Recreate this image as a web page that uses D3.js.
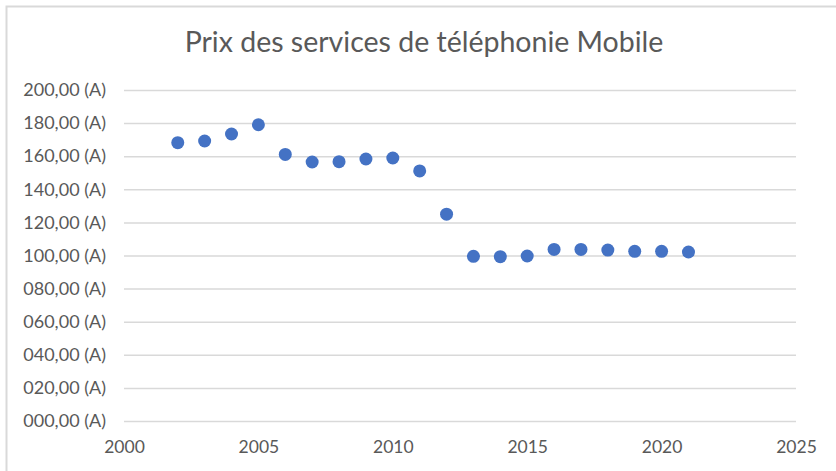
<!DOCTYPE html>
<html>
<head>
<meta charset="utf-8">
<script src="https://cdn.jsdelivr.net/npm/d3@7"></script>
<style>
  body { margin: 0; background: #fff; }
  svg { display: block; font-family: Lato, "Open Sans", sans-serif; }
</style>
</head>
<body>
<svg></svg>
<script>
// data
const years = [2002, 2003, 2004, 2005, 2006, 2007, 2008, 2009, 2010, 2011,
               2012, 2013, 2014, 2015, 2016, 2017, 2018, 2019, 2020, 2021];
const prices = [168.2, 169.2, 173.4, 179.0, 161.1, 156.5, 156.7, 158.3, 158.9, 151.1,
                125.0, 99.5, 99.3, 99.7, 103.7, 103.7, 103.3, 102.5, 102.5, 102.1];
const xTicks = [2000, 2005, 2010, 2015, 2020, 2025];
const yTicks = [0, 20, 40, 60, 80, 100, 120, 140, 160, 180, 200];
const title = 'Prix des services de téléphonie Mobile';

// constants
const width = 836;
const height = 471;
const plotLeft = 124, plotRight = 796, plotTop = 90, plotBottom = 421;
const textColor = '#595959';
const gridColor = '#d9d9d9';

const svg = d3.select('svg')
    .attr('width', width)
    .attr('height', height);

// chart frame
svg.append('path')
    .attr('d', `M6.5,${height} V6.5 H${width}`)
    .attr('fill', 'none')
    .attr('stroke', gridColor)
    .attr('stroke-width', 2);

svg.append('text')
    .attr('x', 424)
    .attr('y', 52)
    .attr('text-anchor', 'middle')
    .attr('fill', textColor)
    .attr('font-size', 28.5)
    .text(title);

const x = d3.scaleLinear().domain([2000, 2025]).range([plotLeft, plotRight]);
const y = d3.scaleLinear().domain([0, 200]).range([plotBottom, plotTop]);

// y axis + grid
const yAxis = d3.axisLeft(y)
    .tickValues(yTicks)
    .tickSize(-(plotRight - plotLeft))
    .tickPadding(18)
    .tickFormat(d => d3.format('03d')(d) + ',00 (A)');

svg.append('g')
    .attr('transform', `translate(${plotLeft}, 0)`)
    .call(yAxis)
    .call(g => g.select('.domain').remove())
    .call(g => g.selectAll('line').attr('stroke', gridColor).attr('stroke-width', 1.5))
    .call(g => g.selectAll('text').attr('fill', textColor).attr('font-size', 18)
        .attr('font-family', 'Lato, sans-serif'));

// x axis
const xAxis = d3.axisBottom(x)
    .tickValues(xTicks)
    .tickSize(0)
    .tickPadding(20)
    .tickFormat(d => String(d));

svg.append('g')
    .attr('transform', `translate(0, ${plotBottom})`)
    .call(xAxis)
    .call(g => g.select('.domain').remove())
    .call(g => g.selectAll('text').attr('fill', textColor).attr('font-size', 17.5)
        .attr('font-family', 'Lato, sans-serif'));

// points
svg.append('g')
    .selectAll('circle')
    .data(years)
    .enter().append('circle')
    .attr('cx', d => x(d))
    .attr('cy', (d, i) => y(prices[i]))
    .attr('r', 6.5)
    .attr('fill', '#4472c4');
</script>
</body>
</html>
